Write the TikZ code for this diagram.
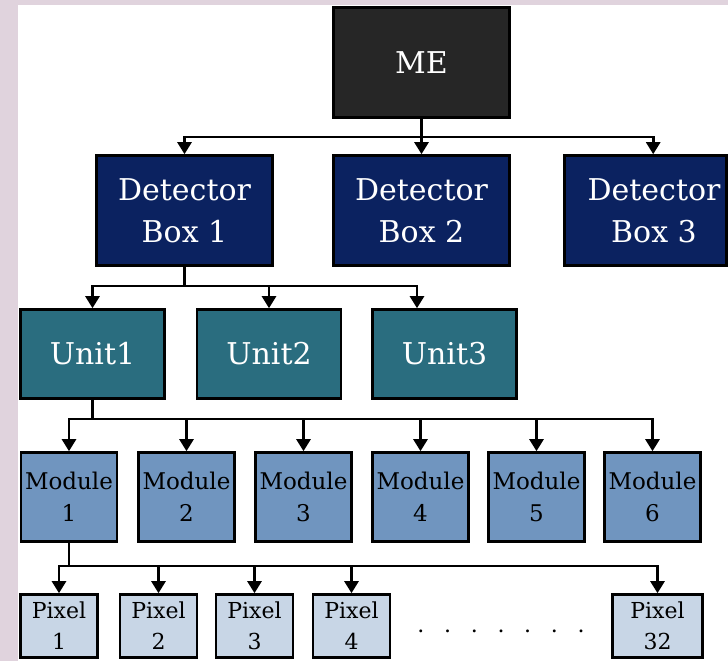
\documentclass[tikz,border=0pt]{standalone}
\usepackage{fontspec}
\setmainfont{DejaVu Serif}
\usetikzlibrary{arrows.meta,calc}

\definecolor{framebg}{HTML}{E0D3DD}
\definecolor{meclr}{HTML}{262626}
\definecolor{detclr}{HTML}{0B2260}
\definecolor{unitclr}{HTML}{2A6D7F}
\definecolor{modclr}{HTML}{7095BF}
\definecolor{pixclr}{HTML}{C8D6E6}

\tikzset{
  blk/.style={draw=black, line width=2.6pt, rectangle, inner sep=0pt, align=center},
  bigtext/.style={font=\fontsize{30}{42}\selectfont, text=white},
  mebox/.style={blk, bigtext, fill=meclr, minimum width=176pt, minimum height=110pt},
  detbox/.style={blk, bigtext, fill=detclr, minimum width=176pt, minimum height=110pt},
  unitbox/.style={blk, bigtext, fill=unitclr, minimum width=144pt, minimum height=89pt},
  modbox/.style={blk, fill=modclr, font=\fontsize{23}{32}\selectfont, minimum width=96pt, minimum height=89pt},
  pixbox/.style={blk, fill=pixclr, font=\fontsize{22}{31}\selectfont, minimum width=77pt, minimum height=63pt},
  link/.style={line width=2.6pt},
  feed/.style={link, -{Triangle[width=14pt,length=12pt]}},
}

\begin{document}
\begin{tikzpicture}[x=1pt, y=-1pt]
  % page frame
  \useasboundingbox (0,0) rectangle (728,661);
  \clip (0,0) rectangle (728,661);
  \fill[framebg] (0,0) rectangle (728,661);
  \fill[white] (18,5) rectangle (728,661);

  % top level
  \node[mebox] (ME) at (421.5,62.5) {ME};

  % detector boxes
  \node[detbox] (Det1) at (184.5,210.5) {Detector\\Box 1};
  \node[detbox] (Det2) at (421.5,210.5) {Detector\\Box 2};
  \node[detbox, minimum width=162pt] (Det3) at (645.5,210.5)
    {\hspace*{17pt}Detector\\\hspace*{17pt}Box 3};

  % units
  \node[unitbox] (Unit1) at (92.5,354) {Unit1};
  \node[unitbox] (Unit2) at (269,354) {Unit2};
  \node[unitbox] (Unit3) at (444.5,354) {Unit3};

  % modules
  \node[modbox] (Mod1) at (69,497) {Module\\1};
  \node[modbox] (Mod2) at (186.5,497) {Module\\2};
  \node[modbox] (Mod3) at (303.5,497) {Module\\3};
  \node[modbox] (Mod4) at (420.5,497) {Module\\4};
  \node[modbox] (Mod5) at (536.5,497) {Module\\5};
  \node[modbox] (Mod6) at (652.5,497) {Module\\6};

  % pixels
  \node[pixbox] (Pix1) at (59,626) {Pixel\\1};
  \node[pixbox] (Pix2) at (158.5,626) {Pixel\\2};
  \node[pixbox] (Pix3) at (254.5,626) {Pixel\\3};
  \node[pixbox] (Pix4) at (351.5,626) {Pixel\\4};
  \node[pixbox, minimum width=90pt] (Pix32) at (657.5,626) {Pixel\\32};
  \node[font=\fontsize{22}{31}\selectfont, inner sep=0pt, anchor=base]
    (gap) at (501,632)
    {\makebox[26.7pt]{.}\makebox[26.7pt]{.}\makebox[26.7pt]{.}\makebox[26.7pt]{.}\makebox[26.7pt]{.}\makebox[26.7pt]{.}\makebox[26.7pt]{.}};

  % bus junctions
  \coordinate (busME) at ($(ME.south)+(0,18)$);
  \coordinate (busDet) at ($(Det1.south)+(0,19)$);
  \coordinate (busUnit) at ($(Unit1.south)+(0,19)$);
  \coordinate (busMod) at ($(Mod1.south)+(0,23)$);
  \coordinate (det3in) at ($(Det3.north west)+(90,0)$);
  \coordinate (unit3in) at ($(Unit3.north)+(-27.5,0)$);

  % ME -> detector boxes
  \draw[link] (ME.south) -- (busME);
  \draw[feed] (busME) -| (Det1.north);
  \draw[feed] (busME) -| (Det2.north);
  \draw[feed] (busME) -| (det3in);

  % detector box 1 -> units
  \draw[link] (Det1.south) -- (busDet);
  \draw[feed] (busDet) -| (Unit1.north);
  \draw[feed] (busDet) -| (Unit2.north);
  \draw[feed] (busDet) -| (unit3in);

  % unit 1 -> modules
  \draw[link] (Unit1.south) -- (busUnit);
  \foreach \m in {Mod1,Mod2,Mod3,Mod4,Mod5,Mod6}
    \draw[feed] (busUnit) -| (\m.north);

  % module 1 -> pixels
  \draw[link] (Mod1.south) -- (busMod);
  \foreach \p in {Pix1,Pix2,Pix3,Pix4,Pix32}
    \draw[feed] (busMod) -| (\p.north);
\end{tikzpicture}
\end{document}
